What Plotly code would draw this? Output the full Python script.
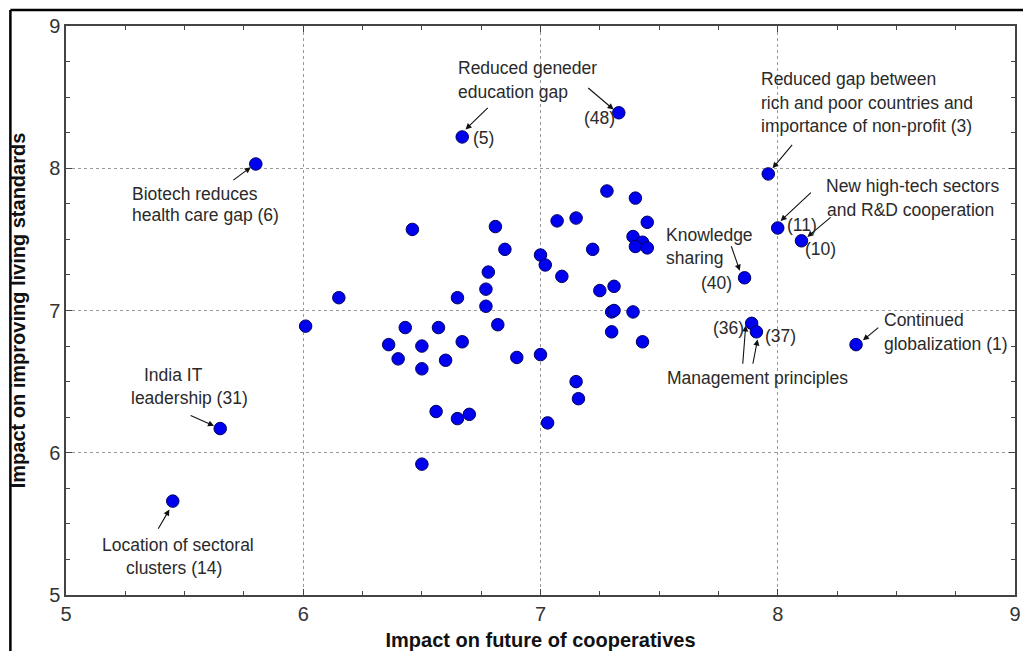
import plotly.graph_objects as go

# ---------------- data ----------------
# impact on future of cooperatives (x) / impact on improving living standards (y)
x_coop = [
    5.80, 6.67, 7.33, 7.96, 8.00, 8.10, 7.86, 7.89, 7.91, 8.33, 5.65, 5.45,
    6.01, 6.15, 6.46, 6.65, 6.43, 6.57, 6.36, 6.50, 6.67, 6.40, 6.60, 6.50,
    6.56, 6.65, 6.70, 6.50, 6.82, 6.90, 7.00, 7.15, 7.16, 7.03, 7.30, 7.43,
    7.28, 7.40, 7.07, 7.15, 6.81, 6.85, 7.00, 7.02, 7.22, 7.45, 7.39, 7.43,
    7.40, 7.45, 6.78, 7.09, 6.77, 7.25, 7.31, 6.77, 7.30, 7.31, 7.39,
]
y_living = [
    8.03, 8.22, 8.39, 7.96, 7.58, 7.49, 7.23, 6.91, 6.85, 6.76, 6.17, 5.66,
    6.89, 7.09, 7.57, 7.09, 6.88, 6.88, 6.76, 6.75, 6.78, 6.66, 6.65, 6.59,
    6.29, 6.24, 6.27, 5.92, 6.90, 6.67, 6.69, 6.50, 6.38, 6.21, 6.85, 6.78,
    7.84, 7.79, 7.63, 7.65, 7.59, 7.43, 7.39, 7.32, 7.43, 7.62, 7.52, 7.48,
    7.45, 7.44, 7.27, 7.24, 7.15, 7.14, 7.17, 7.03, 6.99, 7.00, 6.99,
]
x_ticks = [5, 6, 7, 8, 9]
y_ticks = [5, 6, 7, 8, 9]
x_title = "Impact on future of cooperatives"
y_title = "Impact on improving living standards"

# annotation arrows: (tail x, tail y, head x, head y) in data units
arrows = [
    (5.699, 7.909, 5.779, 8.007),   # (6)
    (6.784, 8.434, 6.684, 8.273),   # (5)
    (7.195, 8.573, 7.308, 8.413),   # (48)
    (8.066, 8.175, 7.978, 8.000),   # (3)
    (8.146, 7.839, 8.012, 7.629),   # (11)
    (8.229, 7.664, 8.125, 7.517),   # (10)
    (7.802, 7.462, 7.840, 7.280),   # (40)
    (7.852, 6.615, 7.865, 6.895),   # (36)
    (7.894, 6.615, 7.915, 6.797),   # (37)
    (8.430, 6.888, 8.359, 6.790),   # (1)
    (5.519, 6.266, 5.624, 6.189),   # (31)
    (5.385, 5.455, 5.436, 5.601),   # (14)
]

# text lines: (text, x, y, anchor) in data units
text_lines = [
    ("Biotech reduces", 5.268, 7.818, "left"),
    ("health care gap (6)", 5.268, 7.674, "left"),
    ("Reduced geneder", 6.642, 8.706, "left"),
    ("education gap", 6.642, 8.538, "left"),
    ("(5)", 6.709, 8.210, "left"),
    ("(48)", 7.174, 8.350, "left"),
    ("Reduced gap between", 7.919, 8.630, "left"),
    ("rich and poor countries and", 7.919, 8.462, "left"),
    ("importance of non-profit (3)", 7.919, 8.294, "left"),
    ("New high-tech sectors", 8.196, 7.874, "left"),
    ("and R&D cooperation", 8.200, 7.706, "left"),
    ("(11)", 8.032, 7.601, "left"),
    ("(10)", 8.108, 7.434, "left"),
    ("Knowledge", 7.521, 7.531, "left"),
    ("sharing", 7.521, 7.371, "left"),
    ("(40)", 7.668, 7.196, "left"),
    ("(36)", 7.718, 6.874, "left"),
    ("(37)", 7.936, 6.818, "left"),
    ("Management principles", 7.526, 6.524, "left"),
    ("Continued", 8.439, 6.930, "left"),
    ("globalization (1)", 8.439, 6.762, "left"),
    ("India IT", 5.454, 6.545, "center"),
    ("leadership (31)", 5.519, 6.385, "center"),
    ("Location of sectoral", 5.473, 5.350, "center"),
    ("clusters (14)", 5.456, 5.189, "center"),
]

# ---------------- figure ----------------
fig = go.Figure()
fig.add_trace(go.Scatter(
    x=x_coop, y=y_living, mode="markers",
    marker=dict(size=12.5, color="#0000f0", line=dict(color="#000060", width=1)),
    showlegend=False, hoverinfo="x+y",
))

ann = []
for tx, ty, hx, hy in arrows:
    ann.append(dict(
        x=hx, y=hy, ax=tx, ay=ty, xref="x", yref="y", axref="x", ayref="y",
        text="", showarrow=True, arrowhead=2, arrowsize=1.1, arrowwidth=1.1,
        arrowcolor="#111", standoff=0,
    ))
for t, x, y, anc in text_lines:
    ann.append(dict(
        x=x, y=y, xref="x", yref="y", text=t, showarrow=False,
        xanchor=anc, yanchor="middle",
        font=dict(family="Liberation Sans, Arial, sans-serif", size=17.5, color="#2a2a2a"),
    ))

axis_common = dict(
    showline=True, mirror="ticks", linecolor="#444", linewidth=1.5,
    ticks="inside", ticklen=6, tickwidth=1, tickcolor="#444",
    showgrid=True, gridcolor="#9a9a9a", griddash="dot", gridwidth=1,
    zeroline=False, tickmode="array", ticklabeloverflow="allow",
    tickfont=dict(family="Liberation Sans, Arial, sans-serif", size=20, color="#333"),
    minor=dict(dtick=0.25, ticks="inside", ticklen=4, tickcolor="#444", showgrid=False),
)

fig.update_layout(
    width=1023, height=651, autosize=False,
    margin=dict(l=66, r=2, t=26, b=53, pad=0),
    paper_bgcolor="white", plot_bgcolor="white",
    xaxis=dict(axis_common, range=[5, 9], tickvals=x_ticks,
               title=dict(text=x_title, standoff=10,
                          font=dict(family="Liberation Sans, Arial, sans-serif", size=20, color="#111", weight="bold"))),
    yaxis=dict(axis_common, range=[5, 9], tickvals=y_ticks,
               title=dict(text=y_title, standoff=18,
                          font=dict(family="Liberation Sans, Arial, sans-serif", size=20, color="#111", weight="bold"))),
    annotations=ann,
    shapes=[
        dict(type="line", xref="paper", yref="paper", x0=-0.0586, x1=1.01, y0=1.028, y1=1.028,
             line=dict(color="black", width=2.5)),
        dict(type="line", xref="paper", yref="paper", x0=-0.0586, x1=-0.0586, y0=1.028, y1=-0.1,
             line=dict(color="black", width=2.5)),
    ],
)

fig.write_html(
    "out.html",
    config={"displayModeBar": False},
    post_script="document.body.style.margin='0';document.body.style.overflow='hidden';",
)
